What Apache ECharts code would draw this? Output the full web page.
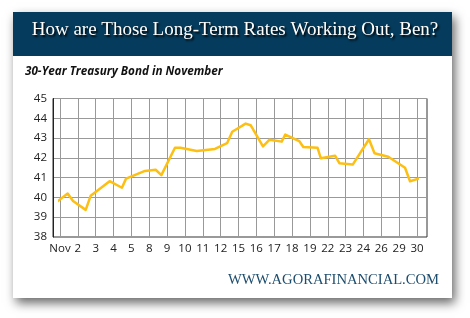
<!DOCTYPE html>
<html>
<head>
<meta charset="utf-8">
<script src="https://cdn.jsdelivr.net/npm/echarts@6/dist/echarts.min.js"></script>
<style>html,body{margin:0;padding:0;background:#fff}#c{width:470px;height:318px}</style>
</head>
<body>
<div id="c"></div>
<script>
// Tick labels of the trading days (x positions 0..20)
var dayLabels = ['Nov','2','3','4','5','8','9','10','11','12','15','16','17','18','19','22','23','24','26','29','30'];
// Position of each reading along the day axis (in trading-day units)
var dayPos = [-0.28,0.43,0.73,1.44,1.72,2.78,3.47,3.70,4.76,5.36,5.68,6.44,6.75,7.66,8.68,9.36,9.65,10.40,10.68,11.37,11.74,12.42,12.62,13.40,13.63,14.43,14.61,15.41,15.65,16.40,17.31,17.62,18.39,19.33,19.61,20.35];
// 30-year yield readings (x10)
var yieldVals = [39.70,40.20,39.82,39.37,40.09,40.82,40.49,40.95,41.34,41.40,41.13,42.51,42.51,42.35,42.45,42.74,43.32,43.73,43.65,42.58,42.92,42.82,43.18,42.85,42.55,42.51,41.98,42.11,41.73,41.66,42.94,42.23,42.06,41.50,40.82,41.02];
var yTicks = {min:38, max:45, step:1};

var seriesData = dayPos.map(function(p,i){return [p, yieldVals[i]];});
var sans = 'Open Sans';
var chart = echarts.init(document.getElementById('c'));
chart.setOption({
  animation:false,
  backgroundColor:'#fff',
  graphic:[
    {type:'rect', z:-10, shape:{x:13,y:12,width:439,height:286}, style:{fill:'#fff', shadowBlur:10, shadowOffsetX:3, shadowOffsetY:5, shadowColor:'rgba(0,0,0,0.6)'}},
    {type:'rect', z:-9, shape:{x:13,y:12,width:439,height:44}, style:{fill:'#053b5c'}},
    {type:'text', z:5, left:'center', top:21, style:{text:'How are Those Long-Term Rates Working Out, Ben?', fill:'#fff', font:'19px "Liberation Serif"', textShadowColor:'rgba(0,0,0,0.9)', textShadowBlur:2, textShadowOffsetX:1.5, textShadowOffsetY:1.5}},
    {type:'text', z:5, left:25, top:66, style:{text:'30-Year Treasury Bond in November', fill:'#111', font:'italic bold 11.7px "Open Sans"'}},
    {type:'text', z:5, right:31, top:273, style:{text:'WWW.AGORAFINANCIAL.COM', fill:'#1d4d6e', font:'14.6px "Liberation Serif"'}}
  ],
  grid:[
    {left:53, right:43, top:98.5, bottom:81, show:true, borderColor:'#333', borderWidth:1, backgroundColor:'transparent'},
    {left:60, right:53, top:98.5, bottom:81}
  ],
  xAxis:[
    {gridIndex:0, type:'value', min:0, max:1, show:false},
    {gridIndex:1, type:'value', min:0, max:dayLabels.length-1, interval:1,
     axisLine:{show:false}, axisTick:{show:false},
     splitLine:{show:true, lineStyle:{color:'#999', width:1}},
     axisLabel:{color:'#222', fontFamily:sans, fontSize:11.5, margin:6, formatter:function(v){return dayLabels[Math.round(v)];}}}
  ],
  yAxis:[
    {gridIndex:0, type:'value', min:yTicks.min, max:yTicks.max, interval:yTicks.step,
     axisLine:{show:true, lineStyle:{color:'#222', width:1}}, axisTick:{show:false},
     splitLine:{show:true, lineStyle:{color:'#999', width:1}},
     axisLabel:{color:'#222', fontFamily:sans, fontSize:11.5, margin:6}},
    {gridIndex:1, type:'value', min:yTicks.min, max:yTicks.max, show:false}
  ],
  series:[{
    type:'line', xAxisIndex:1, yAxisIndex:1, data:seriesData, clip:false,
    symbol:'none', lineStyle:{color:'#fdbf12', width:2.5, join:'round'}, z:3
  }]
});
</script>
</body>
</html>
